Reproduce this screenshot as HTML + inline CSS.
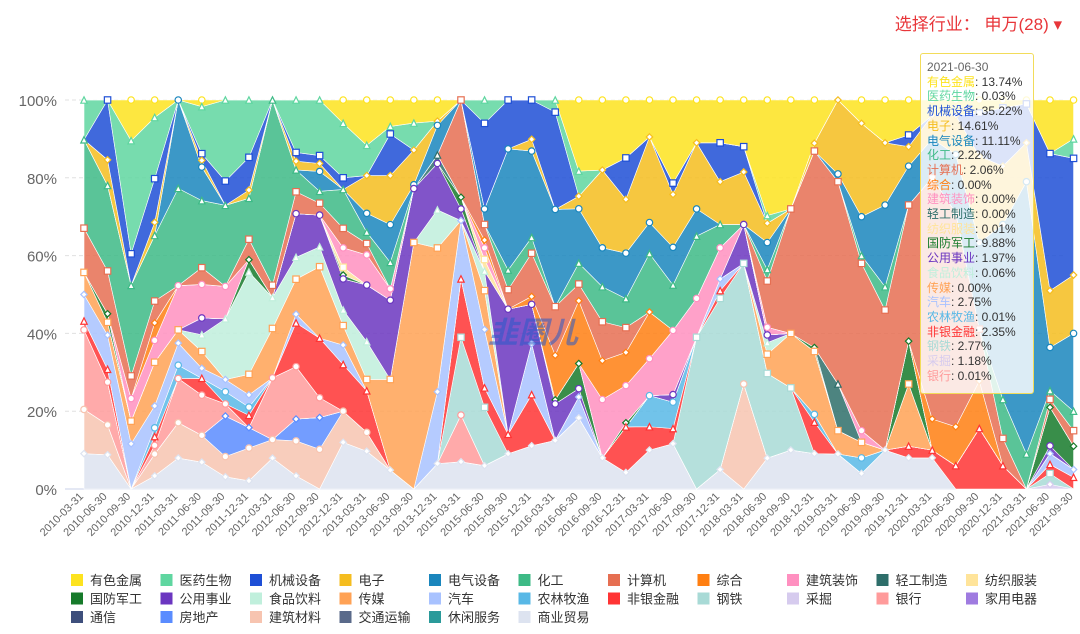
<!DOCTYPE html>
<html><head><meta charset="utf-8"><style>
body{margin:0;background:#fff;font-family:"Liberation Sans","Noto Sans CJK SC",sans-serif;}
#wrap{position:relative;width:1080px;height:634px;overflow:hidden;}
#sel{position:absolute;right:18px;top:10px;color:#e8363a;font-size:17px;}
#tip{position:absolute;left:920px;top:53px;width:114px;height:341px;background:rgba(255,255,255,0.82);border:1px solid #f2dc5a;border-radius:3px;font-size:12px;line-height:14.7px;padding:6px 0 0 6px;box-sizing:border-box;color:#333;}
#wm{position:absolute;left:488px;top:308px;font-size:30px;font-weight:bold;color:rgba(40,90,200,0.55);font-style:italic;}
</style></head><body>
<div id="wrap">
<div id="sel">选择行业： 申万(28) ▾</div>
<svg id="svg" width="1080" height="634"></svg>
<div id="wm">韭圈儿</div>
<div id="tip"></div>
</div>
<script>
const dates=["2010-03-31","2010-06-30","2010-09-30","2010-12-31","2011-03-31","2011-06-30","2011-09-30","2011-12-31","2012-03-31","2012-06-30","2012-09-30","2012-12-31","2013-03-31","2013-06-30","2013-09-30","2013-12-31","2015-03-31","2015-06-30","2015-09-30","2015-12-31","2016-03-31","2016-06-30","2016-09-30","2016-12-31","2017-03-31","2017-06-30","2017-09-30","2017-12-31","2018-03-31","2018-06-30","2018-09-30","2018-12-31","2019-03-31","2019-06-30","2019-09-30","2019-12-31","2020-03-31","2020-06-30","2020-09-30","2020-12-31","2021-03-31","2021-06-30","2021-09-30"];
const names=["有色金属","医药生物","机械设备","电子","电气设备","化工","计算机","综合","建筑装饰","轻工制造","纺织服装","国防军工","公用事业","食品饮料","传媒","汽车","农林牧渔","非银金融","钢铁","采掘","银行","家用电器","通信","房地产","建筑材料","交通运输","休闲服务","商业贸易"];
const colors=["#fde31f","#5fd6a0","#1e4fd6","#f5bd1f","#1a86bd","#3dba86","#e66f52","#ff7f12","#ff90c0","#2e6e6a","#ffe49a","#167a2a","#6b36c0","#c0efdc","#ffa255","#a8c2ff","#58b8e6","#ff3434","#a8dad6","#d6cbee","#ff9b9b","#9f7be0","#3e4f7c","#5a8cff","#f7c4b0","#5a6a8a","#2a9a9a","#dde3f0"];
const s0=[0,0,9,4,0,2,0,0,0,0,0,6,12,7,6,5,0,0,0,0,0,17,18,14,9.5,22,11,11,12,30,28,11,0,6,11,9,4,4,3,2,1,13.74,10];
const s1=[9,0,25,14,0,14,20,14,0,12,14,14,8,2,7,0,0,6,0,0,3,6,0,0,0,0,0,0,0,2,0,0,0,0,0,0,0,0,0,0,0,0.03,5];
const s2=[0,14,7,10,0,2,6,8,0,2,2,3,0,11,0,0,0,22,12.5,10,24,0,0,10,0,3,0,10,6.5,0,0,0,0,0,0,3,0,0,10,15,10,35.22,30];
const s3=[0,6,0,3,0,2,0,2,0,2,2,0,10,13,9,1,0,0,0,3,0,3,20,13,22,14,17,11,13.5,5,0,2,19,24,16,5,6,10,20,15,10,14.61,15];
const s4=[0,0,0,0,20,10,0,0,0,0,5,0,5,10,1,7,0,4,31,22,24,13,10,11,8,10,7,0,0,7,0,0,2,10,21,10,10,15,20,45,70,11.11,20];
const s5=[20,20,20,15,22,20,20,10,30,5,3,10,3,7,0,0,0,0,5,4,0,5,9,7,15,12,16,6,0,3,0,0,0,2,6,0,0,0,0,10,9,2.22,5];
const s6=[10,10,5,5,0,5,0,5,2,5,3,5,3,0,0,0,25,4,5,11,12,4,10,6,0,0,0,0,0,12,32,50,52,43,36,35,62,55,12,7,0,2.06,4];
const s7=[0,0,0,4,0,0,0,0,0,0,0,0,0,0,0,0,0,2,0,2,11,15,10,8,12,0,0,0,0,0,0,0,0,0,0,0,8,10,11,0,0,0,0];
const s8=[0,0,5,5,10,10,8,0,0,0,0,5,8,3,0,0,0,3,0,0,0,0,15,9,9.5,17,10,8,0,2,0,0,0,3,0,0,0,0,0,0,0,0,0];
const s9=[0,0,0,0,0,0,0,0,0,0,0,0,0,0,0,2,0,0,0,0,0,0,0,0,0,0,0,0,0,0,0,0,12,0,0,0,0,0,0,0,0,0,0];
const s10=[0,0,0,0,0,0,0,0,0,0,0,2,0,0,0,0,0,3,0,0,0,0,0,0,0,0,0,0,0,0,0,0,0,0,0,0,0,0,0,0,0,0.01,0];
const s11=[0,2,0,0,0,0,0,3,0,0,0,1,0,0,0,0,3,0,0,0,1,6,0,1,0,0,0,0,0,0,0,1,0,0,0,11,0,0,0,0,0,9.88,6];
const s12=[0,0,0,0,0,5,0,0,0,10,8,8,15,21,14,11,3,0,32,10,9,2,0,0,0,2,0,0,10,2,0,0,0,0,0,0,0,0,0,0,0,1.97,0];
const s13=[0,0,0,0,0,5,15,25,5,5,5,4,10,0,0,9,0,5,0,0,0,0,0,0,0,0,0,0,0,3,0,0,0,0,0,0,0,0,0,0,0,0.06,0];
const s14=[5,3,5,10,3,5,0,5,8,8,18,5,3,24,64,34,0,10,0,0,0,0,0,0,0,0,0,0,0,5,14,16,6,4,0,16,0,0,0,0,0,0,0];
const s15=[6,8,10,5,5,3,3,3,0,2,0,5,0,0,0,17,15,15,0,13,0,5,0,0,0,0,0,3,0,0,0,0,0,0,0,0,0,0,0,0,0,2.75,2];
const s16=[0,0,0,2,3,0,3,2,0,0,0,0,0,0,0,0,0,0,0,0,0,0,0,0,8,7,0,0,0,0,0,2,0,4,0,0,0,0,0,0,0,0.01,0];
const s17=[2,3,0,2,0,5,0,3,0,10,15,12,11,0,0,0,15,5,5,13,0,0,0,11,6,4,0,2,0,0,0,8,0,0,0,3,2,6,14,6,0,2.35,3];
const s18=[0,0,0,0,0,0,0,0,0,0,0,0,0,0,0,0,20,15,0,0,0,0,0,0,0,0,39,44,31,22,16,0,0,0,0,0,0,0,0,0,0,2.77,0];
const s19=[0,0,0,0,0,0,0,0,0,0,0,0,0,0,0,0,0,0,0,0,0,0,0,0,0,0,0,0,0,0,0,0,0,0,0,0,0,0,0,0,0,1.18,0];
const s20=[18,10,0,2,10,12,3,0,10,12,5,0,0,0,0,0,12,0,0,0,0,0,0,0,0,0,0,0,0,0,0,0,0,0,0,0,0,0,0,0,0,0.01,0];
const s21=[0,0,0,0,0,0,0,0,0,0,0,0,0,0,0,0,0,0,0,0,0,0,0,0,0,0,0,0,0,0,0,0,0,0,0,0,0,0,0,0,0,0,0];
const s22=[0,0,0,0,0,0,0,0,0,0,0,0,0,0,0,0,0,0,0,0,0,0,0,0,0,0,0,0,0,0,0,0,0,0,0,0,0,0,0,0,0,0,0];
const s23=[0,0,0,0,0,0,10,5,0,5,8,0,0,0,0,0,0,0,0,0,0,0,0,0,0,0,0,0,0,0,0,0,0,0,0,0,0,0,0,0,0,0,0];
const s24=[10,7,0,5,8,8,5,8,3,8,10,8,5,0,0,0,0,0,0,0,0,0,0,0,0,0,0,0,27,0,0,0,0,0,0,0,0,0,0,0,0,0,0];
const s25=[0,0,0,0,0,0,0,0,0,0,0,0,0,0,0,0,0,0,0,0,0,0,0,0,0,0,0,0,0,0,0,0,0,0,0,0,0,0,0,0,0,0,0];
const s26=[0,0,0,0,0,0,0,0,0,0,0,0,0,0,0,0,0,0,0,0,0,0,0,0,0,0,0,0,0,0,0,0,0,0,0,0,0,0,0,0,0,0,0];
const s27=[8,8,0,3,7,8,3,2,5,3,0,12,10,5,0,6,7,6,9,11,12,17,8,4,10,12,0,5,0,8,10,9,9,4,10,8,8,0,0,0,0,0,0];
const series=[s0,s1,s2,s3,s4,s5,s6,s7,s8,s9,s10,s11,s12,s13,s14,s15,s16,s17,s18,s19,s20,s21,s22,s23,s24,s25,s26,s27];
const yTicks=[0,20,40,60,80,100];
const tipVals=["13.74","0.03","35.22","14.61","11.11","2.22","2.06","0.00","0.00","0.00","0.01","9.88","1.97","0.06","0.00","2.75","0.01","2.35","2.77","1.18","0.01"];

const NS="http://www.w3.org/2000/svg";
const svg=document.getElementById('svg');
const X0=84,X1=1050,Y0=489,Y1=100;
const xs=i=>X0+(X1-X0)*i/(dates.length-2);
const ys=v=>Y0-(Y0-Y1)*v/100;
function mk(t,a,p){const e=document.createElementNS(NS,t);for(const k in a)e.setAttribute(k,a[k]);(p||svg).appendChild(e);return e;}
yTicks.forEach(t=>{
  const g=mk('line',{x1:65,x2:1065,y1:ys(t),y2:ys(t),stroke:t===0?'#c8d0e8':'#e0e0e0','stroke-dasharray':t===0?'':'4,3'});
  
  
  const l=mk('text',{x:57,y:ys(t)+6,'text-anchor':'end','font-size':15,fill:'#666'});
  l.textContent=t+'%';
  
  
});
const n=dates.length;
const totals=dates.map((d,i)=>series.reduce((s,a)=>s+a[i],0)||1);
const cum=new Array(n).fill(0);
const layers=[];
for(let k=series.length-1;k>=0;k--){
  const lo=cum.slice();
  for(let i=0;i<n;i++)cum[i]+=series[k][i]/totals[i]*100;
  layers[k]={lo:lo,hi:cum.slice()};
}
const areaG=mk('g',{});
for(let k=series.length-1;k>=0;k--){
  const L=layers[k];
  let d='M'+xs(0)+','+ys(L.hi[0]);
  for(let i=1;i<n;i++)d+='L'+xs(i)+','+ys(L.hi[i]);
  for(let i=n-1;i>=0;i--)d+='L'+xs(i)+','+ys(L.lo[i]);
  const p=mk('path',{d:d+'Z',fill:colors[k],'fill-opacity':0.85,stroke:'#fff','stroke-width':0.6},areaG);
  
  
}
const mg=mk('g',{});
for(let k=0;k<series.length;k++){
  const L=layers[k];
  for(let i=0;i<n;i++){
    if(series[k][i]<=0.5)continue;
    const x=xs(i),y=ys(L.hi[i]),sh=k%4,r=3.2;let m;
    const at={fill:'#fff',stroke:colors[k],'stroke-width':1.2};
    if(sh===0)m=mk('circle',Object.assign({cx:x,cy:y,r:r},at),mg);
    else if(sh===1)m=mk('path',Object.assign({d:`M${x},${y-r}L${x+r},${y+r}L${x-r},${y+r}Z`},at),mg);
    else if(sh===2)m=mk('rect',Object.assign({x:x-r,y:y-r,width:2*r,height:2*r},at),mg);
    else m=mk('path',Object.assign({d:`M${x},${y-r}L${x+r},${y}L${x},${y+r}L${x-r},${y}Z`},at),mg);
    
    
  }
}
dates.forEach((d,i)=>{
  const x=xs(i),y=497;
  const t=mk('text',{x:x,y:y,'text-anchor':'end','font-size':11,fill:'#666',transform:`rotate(-45 ${x} ${y})`});
  t.textContent=d;
  
  
});
names.forEach((nm,k)=>{
  const col=k%11,row=Math.floor(k/11);
  const x=71+col*89.5,y=574+row*18.5;
  const g=mk('g',{});
  
  
  mk('rect',{x:x,y:y,width:12,height:12,fill:colors[k]},g);
  const t=mk('text',{x:x+19,y:y+11,'font-size':13,fill:'#333'},g);
  t.textContent=nm;
});
const tip=document.getElementById('tip');
let h='<div style="color:#666">2021-06-30</div>';
tipVals.forEach((v,k)=>{h+=`<div><span style="color:${colors[k]}">${names[k]}</span>: ${v}%</div>`;});
tip.innerHTML=h;
</script>
</body></html>
